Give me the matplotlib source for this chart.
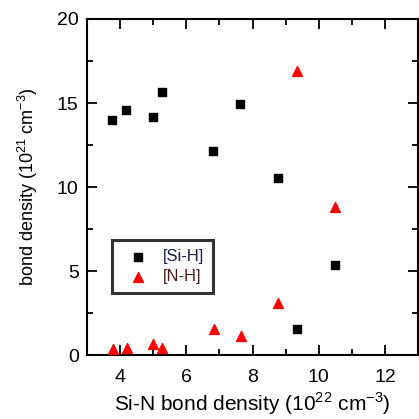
import matplotlib
matplotlib.use("Agg")
import matplotlib.pyplot as plt
from matplotlib.ticker import MultipleLocator

plt.rcParams['font.family'] = ['Liberation Sans', 'DejaVu Sans']
plt.rcParams['mathtext.fontset'] = 'custom'
plt.rcParams['mathtext.rm'] = 'Liberation Sans'

sin_density = [3.76, 4.18, 4.99, 5.26, 6.82, 7.62, 8.77, 9.34, 10.48]
sih_density = [13.97, 14.57, 14.15, 15.67, 12.12, 14.96, 10.52, 1.53, 5.38]
nh_x = [3.78, 4.21, 5.00, 5.28, 6.85, 7.64, 8.77, 9.34, 10.49]
nh_density = [0.36, 0.40, 0.67, 0.44, 1.55, 1.15, 3.07, 16.9, 8.83]

fig = plt.figure(figsize=(4.19, 4.19), dpi=100)
ax = fig.add_axes([87/419, 1-355/419, 331/419, 336/419])

ax.scatter(sin_density, sih_density, marker='s', s=32, color='black', label='[Si-H]', zorder=3)
ax.scatter(nh_x, nh_density, marker='^', s=50, color='red', label='[N-H]', zorder=3)

ax.set_xlim(3, 13)
ax.set_ylim(0, 20)
ax.xaxis.set_minor_locator(MultipleLocator(1))
ax.yaxis.set_major_locator(MultipleLocator(5))
ax.yaxis.set_minor_locator(MultipleLocator(2.5))
ax.set_xticks([4, 6, 8, 10, 12])
ax.tick_params(which='both', direction='in', top=True, right=True, labelsize=14, width=1.3)
ax.tick_params(axis='y', pad=6)
ax.tick_params(axis='x', pad=10)
ax.tick_params(which='major', length=7)
ax.tick_params(which='minor', length=4)
for s in ax.spines.values():
    s.set_linewidth(1.5)

ax.set_xlabel(r'Si-N bond density (10$^{22}$ cm$^{-3}$)', fontsize=15, labelpad=3)
ax.set_ylabel(r'bond density (10$^{21}$ cm$^{-3}$)', fontsize=13, labelpad=12)

leg = ax.legend(loc='upper left', bbox_to_anchor=((112-87)/331, (355-240)/336),
                fontsize=12, frameon=True, fancybox=False, edgecolor='black',
                borderpad=0.55, handletextpad=0.5, labelspacing=0.3, borderaxespad=0,
                handlelength=2.0)
leg.get_frame().set_linewidth(2.2)
for t, c in zip(leg.get_texts(), ['#1a1a4a', '#4a1a1a']):
    t.set_color(c)

fig.savefig('out.png', dpi=100)
